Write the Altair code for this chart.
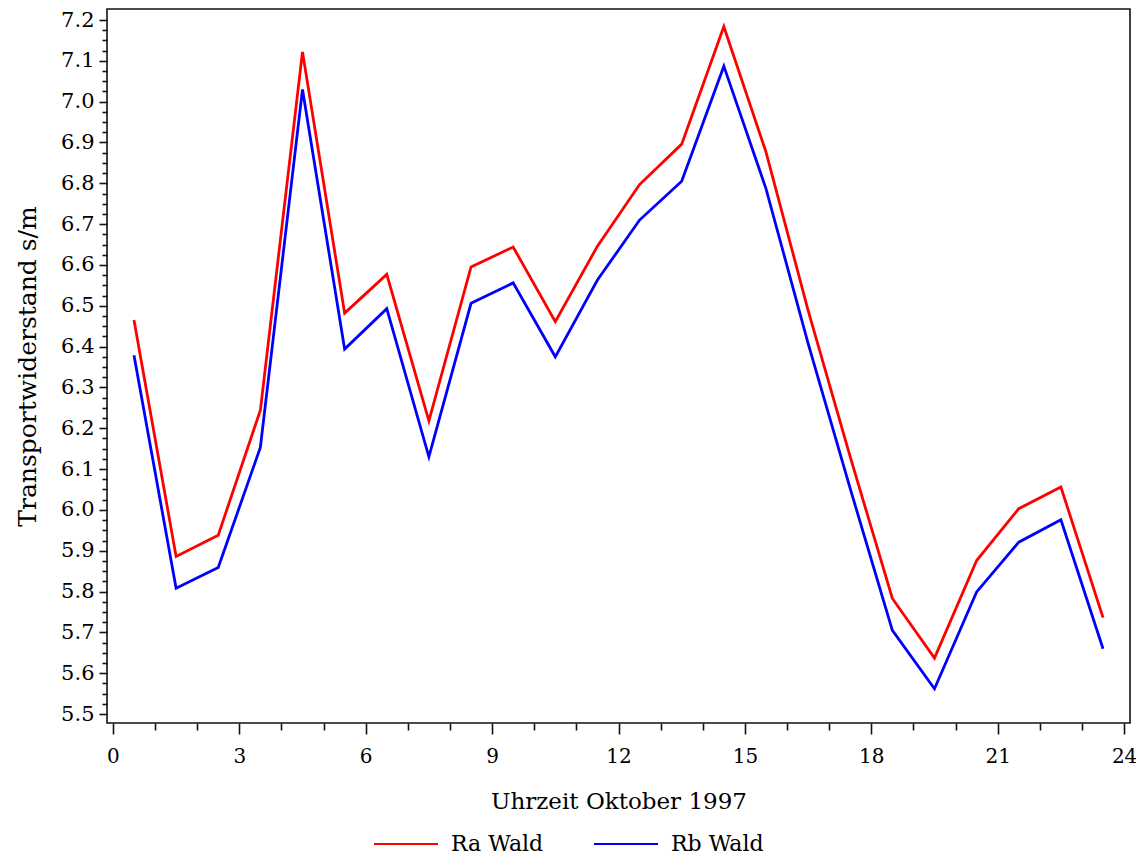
import altair as alt
import pandas as pd

# ---- data ----
hours = [0.5, 1.5, 2.5, 3.5, 4.5, 5.5, 6.5, 7.5, 8.5, 9.5, 10.5, 11.5,
         12.5, 13.5, 14.5, 15.5, 16.5, 17.5, 18.5, 19.5, 20.5, 21.5, 22.5, 23.5]
ra_wald = [6.465, 5.886, 5.938, 6.244, 7.122, 6.482, 6.577, 6.218, 6.595, 6.644, 6.461, 6.646,
           6.797, 6.896, 7.184, 6.877, 6.489, 6.130, 5.783, 5.637, 5.876, 6.003, 6.056, 5.736]
rb_wald = [6.379, 5.808, 5.859, 6.153, 7.030, 6.394, 6.493, 6.130, 6.506, 6.556, 6.375, 6.563,
           6.710, 6.805, 7.087, 6.787, 6.408, 6.052, 5.705, 5.562, 5.799, 5.921, 5.976, 5.660]
series_names = ["Ra Wald", "Rb Wald"]
series_colors = ["#ff0000", "#0000ff"]

x_ticks = list(range(0, 25))                               # majors every 3, minors every 1
y_ticks = [round(5.5 + i * 0.025, 3) for i in range(69)]   # majors every 0.1, minors every 0.025

rows = []
for name, vals in zip(series_names, [ra_wald, rb_wald]):
    for h, v in zip(hours, vals):
        rows.append({"Uhrzeit": h, "Wert": v, "Serie": name})
df = pd.DataFrame(rows)

FONT = "DejaVu Serif"

y_major = "round(datum.value*1000) % 100 === 0"
x_major = "datum.value % 3 === 0"

chart = alt.Chart(df).mark_line(strokeWidth=2.8, strokeJoin="miter").encode(
    x=alt.X("Uhrzeit:Q",
            scale=alt.Scale(domain=[-0.14, 24.14], nice=False, zero=False),
            axis=alt.Axis(values=x_ticks, title="Uhrzeit Oktober 1997",
                          labelExpr=f"{x_major} ? datum.label : ''",
                          tickSize={"condition": {"test": x_major, "value": 11}, "value": 7},
                          labelOverlap=False, grid=False, domain=False,
                          labelFontSize=20, titleFontSize=23, labelPadding=12,
                          titlePadding=24)),
    y=alt.Y("Wert:Q",
            scale=alt.Scale(domain=[5.478, 7.227], nice=False, zero=False),
            axis=alt.Axis(values=y_ticks, title="Transportwiderstand s/m",
                          labelExpr=f"{y_major} ? format(datum.value, '.1f') : ''",
                          tickSize={"condition": {"test": y_major, "value": 8}, "value": 5},
                          labelOverlap=False, grid=False, domain=False,
                          labelFontSize=21, titleFontSize=25, labelPadding=5,
                          titlePadding=20)),
    color=alt.Color("Serie:N",
                    scale=alt.Scale(domain=series_names, range=series_colors),
                    legend=alt.Legend(title=None, orient="none", direction="horizontal",
                                      legendX=266, legendY=802,
                                      symbolType="stroke", symbolSize=4096,
                                      symbolStrokeWidth=2, labelFontSize=22,
                                      labelOffset=12, columnPadding=46, padding=0)),
).properties(
    width=1023, height=714,
    autosize=alt.AutoSizeParams(type="none"),
    padding={"left": 99, "top": 1, "right": 6, "bottom": 145},
).configure_view(
    stroke="#111", strokeWidth=1.6
).configure_axis(
    labelFont=FONT, titleFont=FONT, labelColor="#000", titleColor="#000",
    tickColor="#111", tickWidth=1.6, titleFontWeight="normal"
).configure_legend(
    labelFont=FONT, labelColor="#000"
)

chart.save("out.html", embed_options={"renderer": "svg", "actions": False})
